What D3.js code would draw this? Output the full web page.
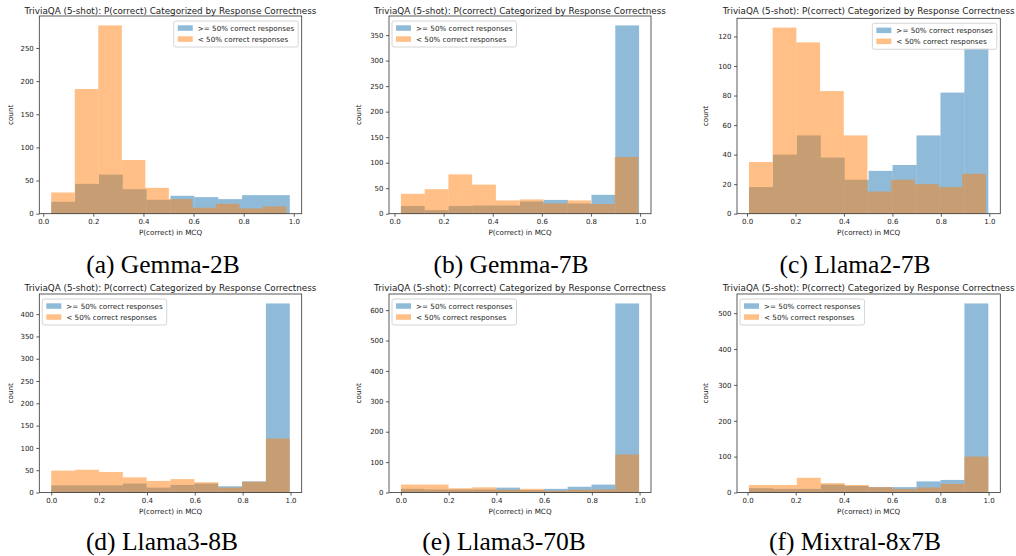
<!DOCTYPE html>
<html>
<head>
<meta charset="utf-8">
<script src="https://cdn.jsdelivr.net/npm/d3@7"></script>
<style>
  html, body { margin: 0; padding: 0; background: #fff; }
  svg { display: block; }
</style>
</head>
<body>
<svg id="chart" width="1016" height="556"></svg>
<script>
// ---------------- DATA ----------------
const titleText = "TriviaQA (5-shot): P(correct) Categorized by Response Correctness";
const captions = ["(a) Gemma-2B", "(b) Gemma-7B", "(c) Llama2-7B", "(d) Llama3-8B", "(e) Llama3-70B", "(f) Mixtral-8x7B"];
const seriesLabels = [">= 50% correct responses", "< 50% correct responses"];
const xLabel = "P(correct) in MCQ";
const yLabel = "count";

// counts per bin (10 bins each), ">= 50% correct" series
const highCounts = [
  [18, 45, 59, 37, 21, 27, 25, 22, 28, 28],
  [15, 7, 15, 16, 16, 24, 27, 20, 37, 369],
  [18, 40, 53, 38, 23, 29, 33, 53, 82, 112],
  [16, 16, 16, 20, 11, 17, 20, 14, 25, 424],
  [12, 10, 10, 10, 16, 8, 12, 19, 26, 622],
  [12, 10, 10, 22, 18, 15, 15, 31, 35, 527]
];
// "< 50% correct" series
const lowCounts = [
  [32, 188, 284, 81, 39, 22, 9, 15, 8, 11],
  [39, 48, 77, 57, 26, 28, 20, 26, 19, 111],
  [35, 126, 116, 83, 53, 15, 23, 20, 18, 27],
  [49, 51, 46, 34, 26, 30, 23, 11, 24, 121],
  [26, 26, 14, 17, 9, 12, 6, 9, 10, 125],
  [21, 21, 41, 26, 21, 15, 10, 14, 24, 100]
];
// histogram range [min, max] of P(correct) for each series
const highRange = [[0.032, 0.984], [0.026, 0.996], [0.008, 0.996], [0.0, 0.997], [0.0, 0.998], [0.006, 0.999]];
const lowRange  = [[0.032, 0.971], [0.026, 0.993], [0.008, 0.986], [0.0, 0.997], [0.0, 0.998], [0.006, 0.999]];

const xTicks = [0.0, 0.2, 0.4, 0.6, 0.8, 1.0];
const yTicks = [
  [0, 50, 100, 150, 200, 250],
  [0, 50, 100, 150, 200, 250, 300, 350],
  [0, 20, 40, 60, 80, 100, 120],
  [0, 50, 100, 150, 200, 250, 300, 350, 400],
  [0, 100, 200, 300, 400, 500, 600],
  [0, 100, 200, 300, 400, 500]
];
const legendLoc = ["right", "left", "right", "left", "left", "left"];

// ---------------- LAYOUT ----------------
const colL = [39.3, 389, 737], colR = [301.7, 651, 1000.3];
const rowT = [16, 294], rowB = [213.7, 492.5];
const captionX = [163, 511, 855, 162, 504, 855];
const captionY = [272.5, 549.5];
const titleY = [13.8, 291.2];

const blue = "#1f77b4", orange = "#ff7f0e";
const svg = d3.select("#chart");
const FONT = "DejaVu Sans, sans-serif";

for (let p = 0; p < 6; p++) {
  const c = p % 3, r = Math.floor(p / 3);
  const L = colL[c], R = colR[c];
  const T = (p === 2) ? 18.3 : rowT[r], B = rowB[r];

  const lo = Math.min(highRange[p][0], lowRange[p][0]);
  const hi = Math.max(highRange[p][1], lowRange[p][1]);
  const m = (hi - lo) * 0.05;
  const x = d3.scaleLinear().domain([lo - m, hi + m]).range([L, R]);
  const ymax = d3.max(highCounts[p].concat(lowCounts[p])) * 1.05;
  const y = d3.scaleLinear().domain([0, ymax]).range([B, T]);

  const g = svg.append("g");

  // bars
  const series = [
    {counts: highCounts[p], range: highRange[p], color: blue},
    {counts: lowCounts[p], range: lowRange[p], color: orange}
  ];
  series.forEach(s => {
    const w = (s.range[1] - s.range[0]) / s.counts.length;
    const bins = s.counts.map((v, i) => ({x0: s.range[0] + i * w, x1: s.range[0] + (i + 1) * w, v}));
    g.append("g").selectAll("rect").data(bins).join("rect")
      .attr("x", d => x(d.x0))
      .attr("width", d => x(d.x1) - x(d.x0))
      .attr("y", d => y(d.v))
      .attr("height", d => y(0) - y(d.v))
      .attr("fill", s.color)
      .attr("fill-opacity", 0.5);
  });

  // axes
  const xAxis = d3.axisBottom(x).tickValues(xTicks).tickFormat(d3.format(".1f")).tickSize(3).tickPadding(2.5);
  const yAxis = d3.axisLeft(y).tickValues(yTicks[p]).tickFormat(d3.format("d")).tickSize(3).tickPadding(2.5);
  const gx = g.append("g").attr("transform", `translate(0,${B})`).call(xAxis);
  const gy = g.append("g").attr("transform", `translate(${L},0)`).call(yAxis);
  [gx, gy].forEach(a => {
    a.select(".domain").remove();
    a.selectAll("line").attr("stroke", "#333").attr("stroke-width", 0.8);
    a.selectAll("text").attr("font-family", FONT).attr("font-size", 7).attr("fill", "#222");
  });

  // frame
  g.append("rect").attr("x", L).attr("y", T).attr("width", R - L).attr("height", B - T)
    .attr("fill", "none").attr("stroke", "#333").attr("stroke-width", 0.8);

  // title
  g.append("text").attr("x", (L + R) / 2).attr("y", titleY[r])
    .attr("text-anchor", "middle").attr("font-family", FONT).attr("font-size", 8.8).attr("fill", "#222")
    .text(titleText);

  // axis labels
  g.append("text").attr("x", (L + R) / 2).attr("y", B + 21.5)
    .attr("text-anchor", "middle").attr("font-family", FONT).attr("font-size", 7.2).attr("fill", "#222")
    .text(xLabel);
  const yl = L - (c === 0 ? 26.6 : (c === 1 ? 28.3 : 29));
  g.append("text").attr("transform", `translate(${yl},${(T + B) / 2}) rotate(-90)`)
    .attr("text-anchor", "middle").attr("font-family", FONT).attr("font-size", 7.2).attr("fill", "#222")
    .text(yLabel);

  // legend
  const lg = g.append("g");
  const box = lg.append("rect");
  const texts = [];
  seriesLabels.forEach((lab, i) => {
    lg.append("rect").attr("x", 4).attr("y", 4.3 + i * 11).attr("width", 15).attr("height", 5.5)
      .attr("fill", i === 0 ? blue : orange).attr("fill-opacity", 0.5);
    texts.push(lg.append("text").attr("x", 24).attr("y", 9.6 + i * 11)
      .attr("font-family", FONT).attr("font-size", 7.2).attr("fill", "#222").text(lab));
  });
  const tw = d3.max(texts, t => t.node().getComputedTextLength());
  const bw = 24 + tw + 4, bh = 26;
  box.attr("x", 0).attr("y", 0).attr("width", bw).attr("height", bh).attr("rx", 2)
    .attr("fill", "#fff").attr("fill-opacity", 0.8).attr("stroke", "#ccc").attr("stroke-width", 0.8);
  const lx = legendLoc[p] === "right" ? R - 3.5 - bw : L + 3;
  lg.attr("transform", `translate(${lx},${T + 5})`);

  // caption
  svg.append("text").attr("x", captionX[p]).attr("y", captionY[r])
    .attr("text-anchor", "middle").attr("font-family", "Liberation Serif, Times New Roman, serif")
    .attr("font-size", 25.5).attr("fill", "#000").text(captions[p]);
}
</script>
</body>
</html>
